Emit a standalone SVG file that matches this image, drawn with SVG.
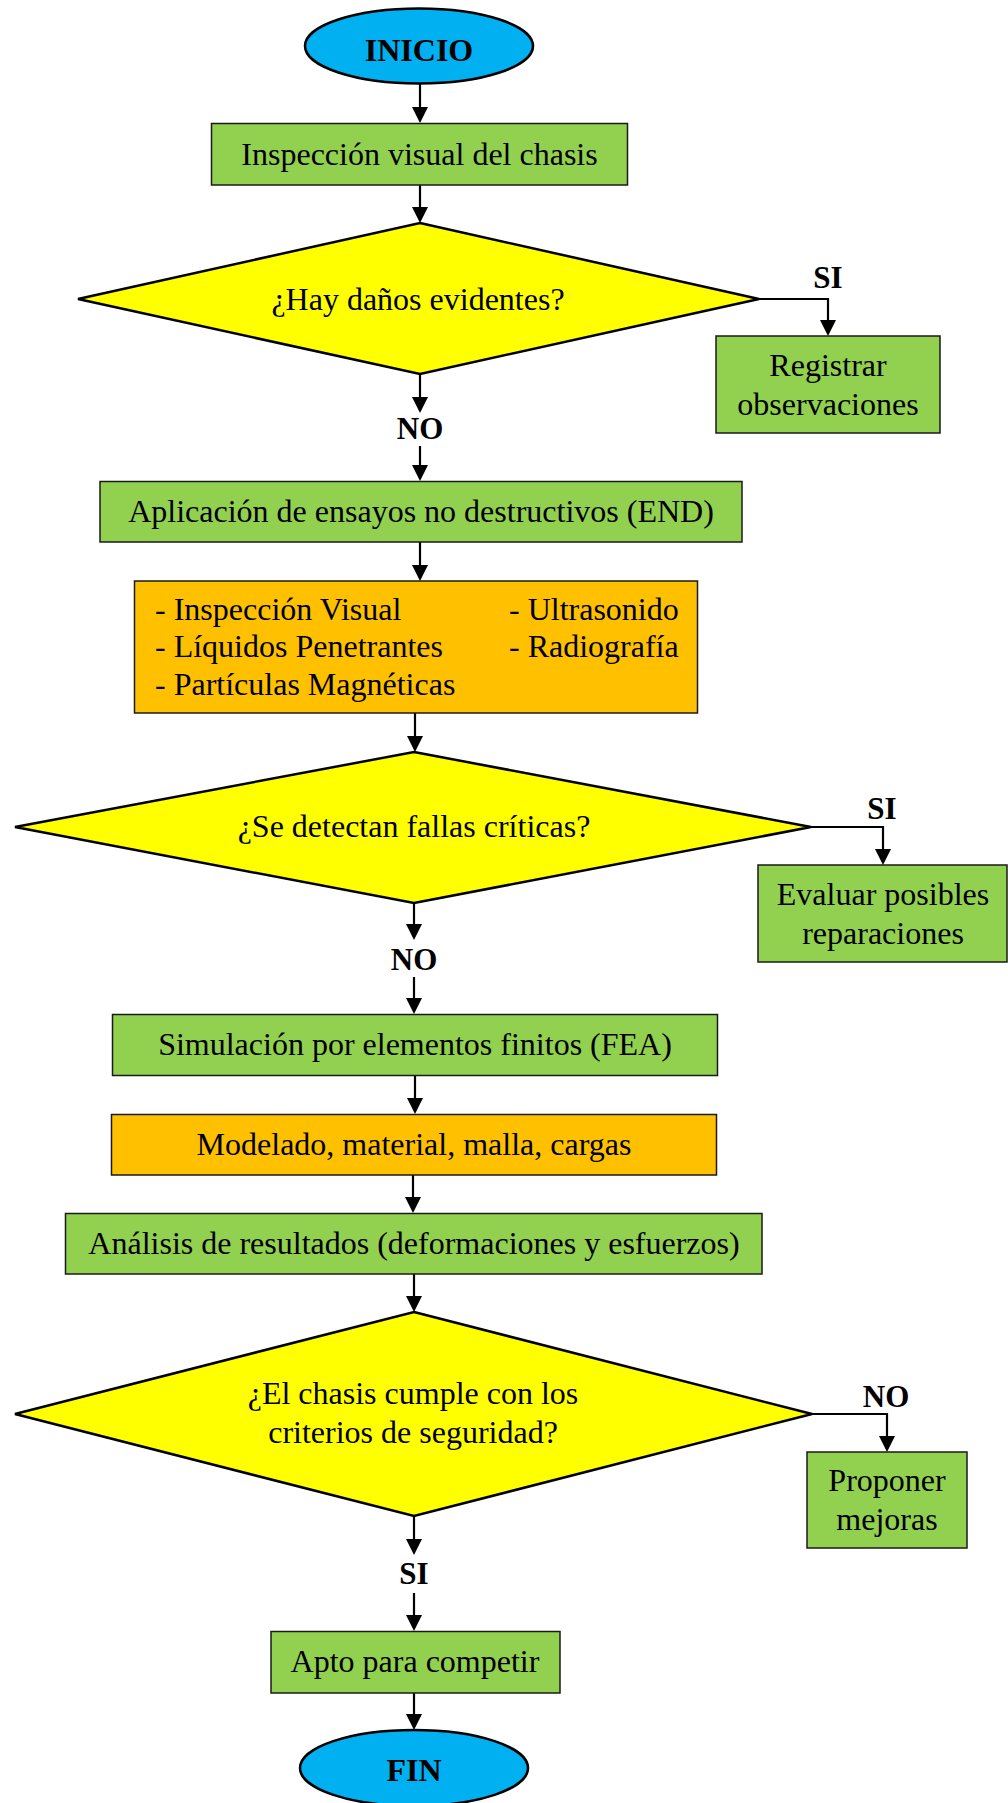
<svg xmlns="http://www.w3.org/2000/svg" width="1008" height="1803" viewBox="0 0 1008 1803">
<style>
  .t { font-family: "Liberation Serif", "Times New Roman", serif; font-size: 32px; fill: #000; }
  .c { text-anchor: middle; }
  .b { font-weight: bold; }
  .lbl { font-family: "Liberation Serif", "Times New Roman", serif; font-size: 31px; font-weight: bold; text-anchor: middle; fill: #000; }
  .green { fill: #92D050; stroke: #1a1a1a; stroke-width: 1.5; }
  .orange { fill: #FFC000; stroke: #1a1a1a; stroke-width: 1.5; }
  .dia { fill: #FFFF00; stroke: #000; stroke-width: 2.5; stroke-linejoin: miter; }
  .term { fill: #00B0F0; stroke: #000; stroke-width: 2.5; }
  .conn { fill: none; stroke: #000; stroke-width: 2.2; marker-end: url(#arr); }
</style>
<defs>
  <marker id="arr" markerUnits="userSpaceOnUse" markerWidth="18" markerHeight="18" refX="13" refY="8" orient="auto">
    <path d="M0,0 L16,8 L0,16 z" fill="#000"/>
  </marker>
</defs>
<rect width="1008" height="1803" fill="#fff"/>

<g id="connectors">
  <path class="conn" d="M420,83 L420,120"/>
  <path class="conn" d="M420,185 L420,220"/>
  <path class="conn" d="M759,299 L828,299 L828,333"/>
  <path class="conn" d="M420,374 L420,410"/>
  <path class="conn" d="M420,446 L420,478"/>
  <path class="conn" d="M420,542 L420,578"/>
  <path class="conn" d="M415,713 L415,749"/>
  <path class="conn" d="M811,827 L883,827 L883,862"/>
  <path class="conn" d="M414,903 L414,937"/>
  <path class="conn" d="M414,977 L414,1011"/>
  <path class="conn" d="M415,1076 L415,1111"/>
  <path class="conn" d="M413,1175 L413,1210"/>
  <path class="conn" d="M414,1274 L414,1309"/>
  <path class="conn" d="M812,1414 L887,1414 L887,1449"/>
  <path class="conn" d="M414,1516 L414,1552"/>
  <path class="conn" d="M414,1593 L414,1628"/>
  <path class="conn" d="M414,1693 L414,1727"/>
</g>

<g id="labels">
  <text class="lbl" x="828" y="288">SI</text>
  <text class="lbl" x="420" y="439">NO</text>
  <text class="lbl" x="882" y="819">SI</text>
  <text class="lbl" x="414" y="970">NO</text>
  <text class="lbl" x="886" y="1407">NO</text>
  <text class="lbl" x="414" y="1584">SI</text>
</g>

<g id="inicio">
  <ellipse class="term" cx="419" cy="46" rx="114" ry="37.5"/>
  <text class="t c b" x="419" y="61">INICIO</text>
</g>

<g id="inspeccion">
  <rect class="green" x="211.5" y="123.5" width="416" height="61.5"/>
  <text class="t c" x="419.5" y="165">Inspección visual del chasis</text>
</g>

<g id="decision-danos">
  <polygon class="dia" points="420,223 759,299 420,374 78,299"/>
  <text class="t c" x="418" y="310">¿Hay daños evidentes?</text>
</g>

<g id="registrar">
  <rect class="green" x="716" y="336" width="224" height="97"/>
  <text class="t c" x="828" y="376">Registrar</text>
  <text class="t c" x="828" y="415">observaciones</text>
</g>

<g id="ensayos">
  <rect class="green" x="100" y="481.5" width="642" height="60.5"/>
  <text class="t c" x="421" y="522">Aplicación de ensayos no destructivos (END)</text>
</g>

<g id="metodos">
  <rect class="orange" x="134.5" y="581" width="563" height="132"/>
  <text class="t" x="155" y="620">- Inspección Visual</text>
  <text class="t" x="155" y="657">- Líquidos Penetrantes</text>
  <text class="t" x="155" y="695">- Partículas Magnéticas</text>
  <text class="t" x="509" y="620">- Ultrasonido</text>
  <text class="t" x="509" y="657">- Radiografía</text>
</g>

<g id="decision-fallas">
  <polygon class="dia" points="414,752 811,827 414,903 15,827"/>
  <text class="t c" x="414" y="837">¿Se detectan fallas críticas?</text>
</g>

<g id="evaluar">
  <rect class="green" x="758" y="865" width="249" height="97"/>
  <text class="t c" x="883" y="905">Evaluar posibles</text>
  <text class="t c" x="883" y="944">reparaciones</text>
</g>

<g id="simulacion">
  <rect class="green" x="112.5" y="1014.5" width="605" height="61"/>
  <text class="t c" x="415" y="1055">Simulación por elementos finitos (FEA)</text>
</g>

<g id="modelado">
  <rect class="orange" x="111.5" y="1114.5" width="605" height="60.5"/>
  <text class="t c" x="414" y="1155">Modelado, material, malla, cargas</text>
</g>

<g id="analisis">
  <rect class="green" x="65.5" y="1213.5" width="696.5" height="60.5"/>
  <text class="t c" x="414" y="1254">Análisis de resultados (deformaciones y esfuerzos)</text>
</g>

<g id="decision-criterios">
  <polygon class="dia" points="414,1312 812,1414 414,1516 15,1414"/>
  <text class="t c" x="413" y="1404">¿El chasis cumple con los</text>
  <text class="t c" x="413" y="1443">criterios de seguridad?</text>
</g>

<g id="proponer">
  <rect class="green" x="807" y="1452" width="160" height="96"/>
  <text class="t c" x="887" y="1491">Proponer</text>
  <text class="t c" x="887" y="1530">mejoras</text>
</g>

<g id="apto">
  <rect class="green" x="271" y="1631.5" width="289" height="61.5"/>
  <text class="t c" x="415" y="1672">Apto para competir</text>
</g>

<g id="fin">
  <ellipse class="term" cx="414" cy="1768" rx="114" ry="38"/>
  <text class="t c b" x="414" y="1781">FIN</text>
</g>
</svg>
